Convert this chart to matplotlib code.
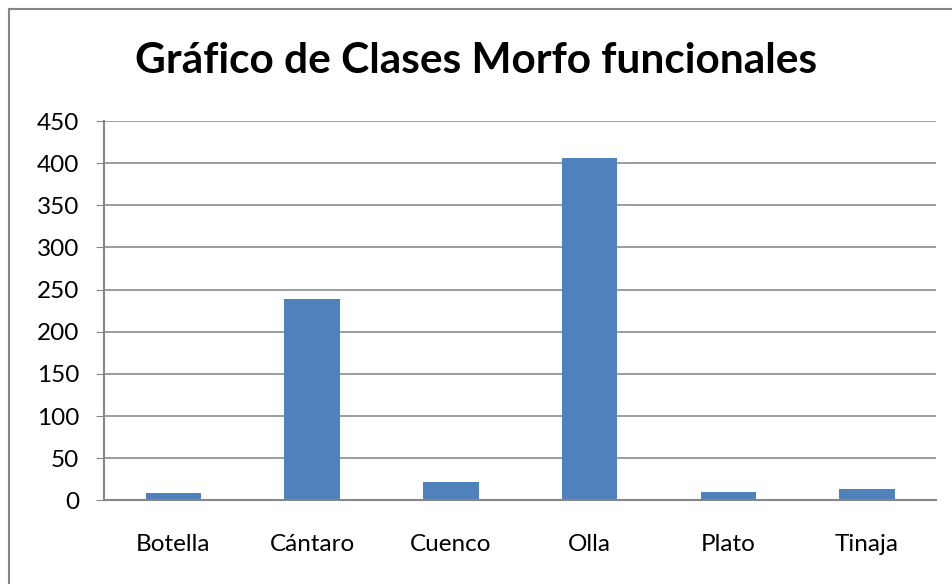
import matplotlib.pyplot as plt
from matplotlib.lines import Line2D

categories = ['Botella', 'Cántaro', 'Cuenco', 'Olla', 'Plato', 'Tinaja']
values = [9, 239, 22, 406, 10, 14]
yticks = [0, 50, 100, 150, 200, 250, 300, 350, 400, 450]

plt.rcParams['font.family'] = ['Lato', 'DejaVu Sans']

fig = plt.figure(figsize=(9.52, 5.84), dpi=100)
ax = fig.add_axes([0.1092, 0.143, 0.8745, 0.6498])

ax.bar(range(len(categories)), values, width=0.4, color='#4f81bd')
ax.set_xlim(-0.5, len(categories) - 0.5)
ax.set_ylim(0, 450)
ax.set_yticks(yticks)
ax.set_xticks(range(len(categories)))
ax.set_xticklabels(categories)
ax.yaxis.grid(True, color='#8c8c8c', linewidth=1.2)
ax.set_axisbelow(True)

for side in ['top', 'right']:
    ax.spines[side].set_visible(False)
for side in ['left', 'bottom']:
    ax.spines[side].set_color('#868686')
    ax.spines[side].set_linewidth(1.5)

ax.tick_params(axis='y', length=6, color='#868686', labelsize=17.5, pad=12)
ax.tick_params(axis='x', length=0, labelsize=17.5, pad=24)

fig.text(0.5, 0.895, 'Gráfico de Clases Morfo funcionales', ha='center', va='center',
         fontsize=30.5, fontweight='bold')

# chart border (only top and left edges visible in the crop)
fig.lines.append(Line2D([9 / 952, 1], [1 - 9 / 584, 1 - 9 / 584], transform=fig.transFigure,
                        color='#868686', linewidth=1.5))
fig.lines.append(Line2D([9 / 952, 9 / 952], [0, 1 - 9 / 584], transform=fig.transFigure,
                        color='#868686', linewidth=1.5))

plt.savefig('out.png', dpi=100)
